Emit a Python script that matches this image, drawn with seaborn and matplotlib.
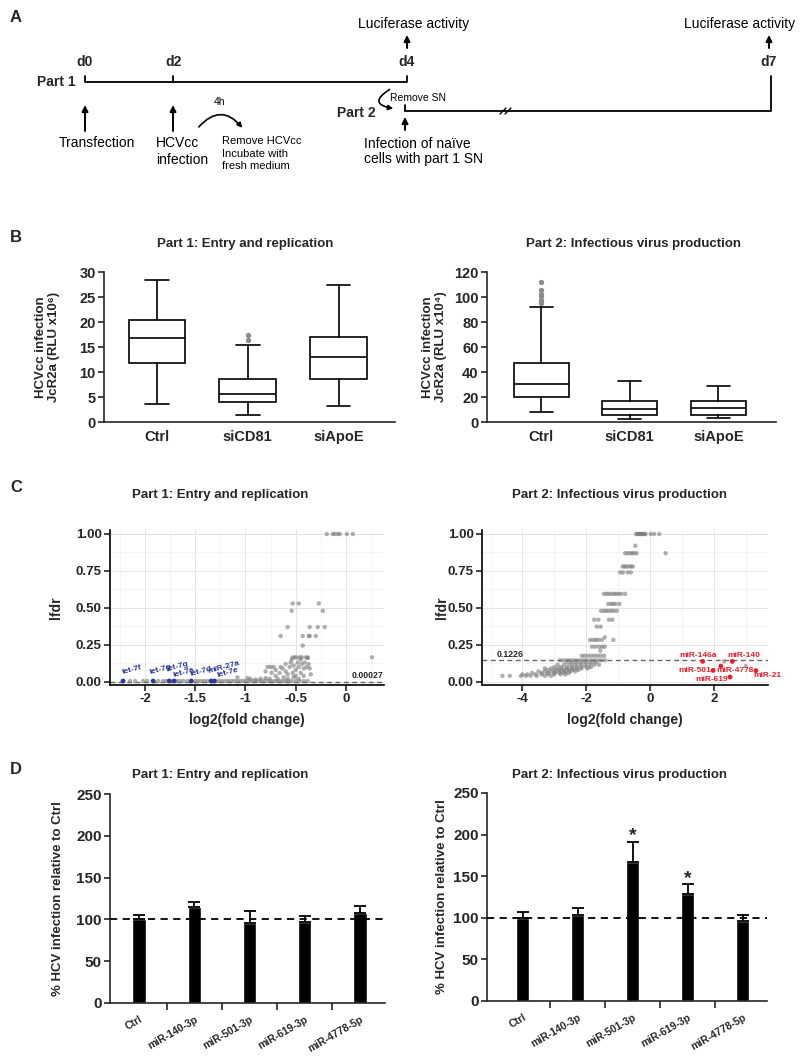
import numpy as np
import pandas as pd
import matplotlib
matplotlib.use("Agg")
import matplotlib.pyplot as plt
import matplotlib.font_manager as fm
from matplotlib.patches import FancyArrowPatch
from matplotlib.ticker import FixedLocator, MultipleLocator
import seaborn as sns

# ---------------- data ----------------
box_cats = ["Ctrl", "siCD81", "siApoE"]
# Part 1 (RLU x10^6)
p1_whislo = [3.7, 1.5, 3.3]
p1_q1 = [11.9, 4.1, 8.6]
p1_med = [16.9, 5.6, 13.1]
p1_q3 = [20.5, 8.7, 17.1]
p1_whishi = [28.5, 15.4, 27.5]
p1_fliers = [[], [16.4, 17.5], []]
# Part 2 (RLU x10^4)
p2_whislo = [7.8, 2.7, 3.2]
p2_q1 = [20.3, 5.3, 5.9]
p2_med = [30.2, 10.7, 11.2]
p2_q3 = [47.6, 17.1, 17.1]
p2_whishi = [91.7, 33.1, 29.1]
p2_fliers = [[95.1, 97.8, 100.5, 102.4, 105.8, 111.8], [], []]

# Volcano part 1 : (log2 fold change, lfdr)
part1_points = [
    (-2.15, 0.005), (-2.10, 0.005), (-2.02, 0.005), (-1.98, 0.005), (-1.87, 0.005),
    (-1.82, 0.005), (-1.79, 0.005), (-1.73, 0.005), (-1.68, 0.005), (-1.65, 0.005),
    (-1.62, 0.005), (-1.58, 0.005), (-1.50, 0.005), (-1.47, 0.005), (-1.44, 0.005),
    (-1.41, 0.005), (-1.38, 0.005), (-1.35, 0.005), (-1.29, 0.005), (-1.26, 0.005),
    (-1.23, 0.005), (-1.20, 0.005), (-1.17, 0.005), (-1.14, 0.005), (-1.11, 0.005),
    (-1.08, 0.005), (-1.05, 0.005), (-1.02, 0.005), (-0.99, 0.005), (-0.96, 0.005),
    (-0.93, 0.005), (-0.90, 0.005), (-0.87, 0.005), (-0.84, 0.005), (-0.81, 0.005),
    (-0.78, 0.005), (-0.75, 0.005), (-0.72, 0.005), (-0.69, 0.005), (-0.66, 0.005),
    (-0.63, 0.005), (-0.60, 0.005), (-0.57, 0.005), (-0.54, 0.005), (-0.50, 0.005),
    (-0.46, 0.005), (-0.42, 0.005), (-0.38, 0.005),
    (-1.08, 0.030), (-0.98, 0.025), (-0.95, 0.020), (-0.90, 0.015), (-0.85, 0.020),
    (-0.80, 0.025), (-0.76, 0.020), (-0.68, 0.020), (-0.58, 0.020), (-0.47, 0.020),
    (-0.62, 0.030), (-0.52, 0.030), (-0.70, 0.040), (-0.50, 0.040), (-0.42, 0.040),
    (-0.66, 0.060), (-0.58, 0.050), (-0.53, 0.060), (-0.45, 0.060), (-0.74, 0.060),
    (-0.35, 0.050), (-0.80, 0.070), (-0.60, 0.070), (-0.70, 0.080), (-0.50, 0.080),
    (-0.63, 0.090), (-0.42, 0.090), (-0.36, 0.090), (-0.78, 0.100), (-0.75, 0.100),
    (-0.72, 0.100), (-0.56, 0.100), (-0.47, 0.100), (-0.39, 0.100), (-0.65, 0.100),
    (-0.52, 0.110), (-0.60, 0.120), (-0.44, 0.120), (-0.37, 0.120), (-0.55, 0.130),
    (-0.48, 0.130), (-0.41, 0.130), (-0.54, 0.150), (-0.45, 0.150), (-0.38, 0.160),
    (-0.53, 0.165), (-0.51, 0.165), (-0.49, 0.165), (-0.46, 0.165), (-0.44, 0.165),
    (-0.40, 0.165), (-0.38, 0.165), (0.26, 0.165),
    (-0.43, 0.245),
    (-0.65, 0.31), (-0.43, 0.31), (-0.37, 0.31), (-0.36, 0.31), (-0.30, 0.31),
    (-0.58, 0.37), (-0.36, 0.37), (-0.28, 0.37), (-0.21, 0.37),
    (-0.54, 0.48), (-0.23, 0.48),
    (-0.53, 0.53), (-0.47, 0.53), (-0.27, 0.53),
    (-0.19, 1.0), (-0.13, 1.0), (-0.11, 1.0), (-0.08, 1.0), (-0.06, 1.0), (0.01, 1.0), (0.07, 1.0),
]
part1_hl_names = ["let-7f", "let-7g", "let-7g", "let-7a", "let-7d", "miR-27a", "let-7e"]
part1_hl_x = [-2.22, -1.92, -1.76, -1.71, -1.54, -1.34, -1.31]
part1_hl_y = [0.005, 0.005, 0.005, 0.005, 0.005, 0.005, 0.005]
part1_cut = 0.00027

# Volcano part 2
part2_points = [
    (-0.44, 1.0), (-0.40, 1.0), (-0.36, 1.0), (-0.33, 1.0), (-0.30, 1.0), (-0.27, 1.0),
    (-0.24, 1.0), (-0.20, 1.0), (-0.17, 1.0), (-0.14, 1.0), (0.02, 1.0), (0.13, 1.0), (0.29, 1.0),
    (-0.46, 0.92),
    (-0.78, 0.87), (-0.70, 0.87), (-0.62, 0.87), (-0.56, 0.87), (-0.50, 0.87), (-0.42, 0.87), (0.49, 0.87),
    (-0.86, 0.78), (-0.80, 0.78), (-0.74, 0.78), (-0.66, 0.78), (-0.60, 0.78), (-0.54, 0.78),
    (-0.94, 0.74), (-0.85, 0.74), (-0.70, 0.74), (-0.60, 0.74),
    (-1.44, 0.595), (-1.36, 0.595), (-1.28, 0.595), (-1.20, 0.595), (-1.12, 0.595),
    (-1.05, 0.595), (-0.98, 0.595), (-0.90, 0.595), (-0.78, 0.595),
    (-1.31, 0.527), (-1.22, 0.527), (-1.15, 0.527), (-1.08, 0.527), (-0.96, 0.527),
    (-1.54, 0.48), (-1.45, 0.48), (-1.38, 0.48), (-1.30, 0.48), (-1.22, 0.48), (-1.14, 0.48), (-1.04, 0.48),
    (-1.75, 0.42), (-1.62, 0.42), (-1.29, 0.42), (-1.18, 0.42),
    (-1.67, 0.373), (-1.55, 0.373),
    (-1.42, 0.30),
    (-1.88, 0.283), (-1.78, 0.283), (-1.70, 0.283), (-1.62, 0.283), (-1.51, 0.283), (-1.15, 0.283),
    (-1.82, 0.237), (-1.72, 0.237), (-1.60, 0.237), (-1.50, 0.237), (-1.42, 0.237),
    (-1.56, 0.21),
    (-2.14, 0.176), (-2.05, 0.176), (-1.95, 0.176), (-1.85, 0.176), (-1.75, 0.176),
    (-1.65, 0.176), (-1.55, 0.176), (-1.44, 0.176),
    (-2.82, 0.145), (-2.72, 0.145), (-2.62, 0.145), (-2.52, 0.145), (-2.42, 0.145),
    (-2.32, 0.145), (-2.22, 0.145), (-2.12, 0.145), (-2.02, 0.145), (-1.92, 0.145),
    (-1.82, 0.145), (-1.72, 0.145), (-1.62, 0.145), (-1.52, 0.145), (-1.41, 0.145),
    (-2.60, 0.13), (-2.45, 0.13), (-2.30, 0.13), (-2.15, 0.13), (-2.00, 0.13), (-1.85, 0.13), (-1.70, 0.13),
    (-2.90, 0.115), (-2.70, 0.115), (-2.50, 0.115), (-2.35, 0.115), (-2.20, 0.115),
    (-2.05, 0.115), (-1.90, 0.115), (-1.75, 0.115), (-1.60, 0.115),
    (-3.00, 0.10), (-2.80, 0.10), (-2.60, 0.10), (-2.45, 0.10), (-2.30, 0.10), (-2.15, 0.10),
    (-2.00, 0.10), (-1.85, 0.10),
    (-3.30, 0.09), (-3.10, 0.09), (-2.90, 0.09), (-2.75, 0.09), (-2.60, 0.09), (-2.45, 0.09),
    (-2.30, 0.09), (-2.15, 0.09), (-1.95, 0.09),
    (-3.20, 0.08), (-3.00, 0.08), (-2.85, 0.08), (-2.70, 0.08), (-2.55, 0.08), (-2.40, 0.08), (-2.25, 0.08),
    (-3.50, 0.07), (-3.30, 0.07), (-3.10, 0.07), (-2.95, 0.07), (-2.80, 0.07), (-2.65, 0.07),
    (-2.50, 0.07), (-2.35, 0.07),
    (-3.70, 0.06), (-3.40, 0.06), (-3.20, 0.06), (-3.00, 0.06), (-2.85, 0.06), (-2.70, 0.06), (-2.55, 0.06),
    (-4.00, 0.05), (-3.85, 0.05), (-3.60, 0.05), (-3.40, 0.05), (-3.20, 0.05), (-3.00, 0.05),
    (-2.80, 0.05), (-2.65, 0.05),
    (-4.63, 0.04), (-4.40, 0.04), (-4.05, 0.04), (-3.90, 0.04), (-3.75, 0.04), (-3.55, 0.04),
    (-3.30, 0.04), (-3.10, 0.04),
    (2.32, 0.138), (3.00, 0.106),
]
part2_hl_names = ["miR-146a", "miR-140", "miR-501", "miR-4778", "miR-21", "miR-619"]
part2_hl_x = [1.65, 2.58, 1.98, 2.22, 3.32, 2.51]
part2_hl_y = [0.138, 0.138, 0.077, 0.106, 0.075, 0.032]
part2_cut = 0.145

# Bars
bar_cats = ["Ctrl", "miR-140-3p", "miR-501-3p", "miR-619-3p", "miR-4778-5p"]
bar1_mean = [100, 115, 96.2, 97, 108.2]
bar1_err = [5.8, 5.6, 14.0, 6.8, 7.6]
bar2_mean = [100, 103.7, 167.6, 129, 96.5]
bar2_err = [6.5, 8.0, 24.1, 11.3, 7.2]
bar2_star = ["", "", "*", "*", ""]

# ---------------- style ----------------
sns.set_style("ticks")
plt.rcParams["font.family"] = ["Liberation Sans", "DejaVu Sans"]
plt.rcParams["axes.unicode_minus"] = False
names = {f.name for f in fm.fontManager.ttflist}
NARROW = ["Liberation Sans Narrow", "Liberation Sans", "DejaVu Sans"] if "Liberation Sans Narrow" in names else ["Liberation Sans", "DejaVu Sans"]

W, H = 800, 1064
fig = plt.figure(figsize=(W / 100, H / 100), dpi=100)


def rect(l, t, r, b):
    return [l / W, 1 - b / H, (r - l) / W, (b - t) / H]


LW = 1.2
TITLE_FS = 9.5

# ---------------- Panel A (schematic) ----------------
axA = fig.add_axes([0, 1 - 200 / H, 1, 200 / H])
axA.set_xlim(0, W)
axA.set_ylim(200, 0)
axA.axis("off")
tkw = dict(family=NARROW, color="black")
AFS = 10
arrow_kw = dict(arrowstyle="-|>", lw=1.4, color="black", mutation_scale=9, shrinkA=0, shrinkB=0)
axA.text(16, 18, "A", fontsize=12, fontweight="bold", ha="center", va="center")
axA.text(414, 24, "Luciferase activity", fontsize=AFS, ha="center", va="center", **tkw)
axA.text(740, 24, "Luciferase activity", fontsize=AFS, ha="center", va="center", **tkw)
for x in (407, 769):
    axA.annotate("", xy=(x, 35), xytext=(x, 48), arrowprops=arrow_kw)
for x, lab in [(85, "d0"), (173, "d2"), (407, "d4"), (769, "d7")]:
    axA.text(x, 62, lab, fontsize=10, fontweight="bold", ha="center", va="center")
axA.text(56, 82, "Part 1", fontsize=10, fontweight="bold", ha="center", va="center")
axA.plot([85, 407], [82, 82], color="black", lw=1.3, solid_capstyle="butt")
for x in (85, 173, 407):
    axA.plot([x, x], [82, 76], color="black", lw=1.3)
axA.plot([405, 771, 771], [111, 111, 76], color="black", lw=1.3)
axA.plot([405, 405], [111, 105], color="black", lw=1.3)
for dx in (0, 5):
    axA.plot([500 + dx, 506 + dx], [114, 108], color="black", lw=1.0)
axA.text(356, 113, "Part 2", fontsize=10, fontweight="bold", ha="center", va="center")
for x, y0, y1 in [(85, 131, 105), (173, 131, 105), (405, 130, 117)]:
    axA.annotate("", xy=(x, y1), xytext=(x, y0), arrowprops=arrow_kw)
axA.add_patch(FancyArrowPatch((197, 129), (244, 130), connectionstyle="arc3,rad=-0.62",
                              arrowstyle="-|>", mutation_scale=7, lw=1.2, color="black"))
axA.text(219, 102, "4h", fontsize=7.5, ha="center", va="center", **tkw)
axA.add_patch(FancyArrowPatch((392, 88), (396, 109), connectionstyle="arc3,rad=1.4",
                              arrowstyle="-|>", mutation_scale=7, lw=1.2, color="black"))
axA.text(390, 98, "Remove SN", fontsize=7.5, ha="left", va="center", **tkw)
axA.text(97, 143, "Transfection", fontsize=AFS, ha="center", va="center", **tkw)
axA.text(156, 143, "HCVcc", fontsize=AFS, ha="left", va="center", **tkw)
axA.text(156, 160, "infection", fontsize=AFS, ha="left", va="center", **tkw)
axA.text(222, 141, "Remove HCVcc", fontsize=8, ha="left", va="center", **tkw)
axA.text(222, 154, "Incubate with", fontsize=8, ha="left", va="center", **tkw)
axA.text(222, 166, "fresh medium", fontsize=8, ha="left", va="center", **tkw)
axA.text(364, 144, "Infection of na\u00efve", fontsize=AFS, ha="left", va="center", **tkw)
axA.text(364, 159, "cells with part 1 SN", fontsize=AFS, ha="left", va="center", **tkw)

# panel letters and titles
for y, lab in [(238, "B"), (488, "C"), (769, "D")]:
    fig.text(16 / W, 1 - y / H, lab, fontsize=12, fontweight="bold", ha="center", va="center")
title_kw = dict(fontsize=TITLE_FS, fontweight="bold", ha="center", va="center")
fig.text(245 / W, 1 - 244 / H, "Part 1: Entry and replication", **title_kw)
fig.text(633 / W, 1 - 244 / H, "Part 2: Infectious virus production", **title_kw)
fig.text(220 / W, 1 - 495 / H, "Part 1: Entry and replication", **title_kw)
fig.text(620 / W, 1 - 495 / H, "Part 2: Infectious virus production", **title_kw)
fig.text(220 / W, 1 - 775 / H, "Part 1: Entry and replication", **title_kw)
fig.text(620 / W, 1 - 775 / H, "Part 2: Infectious virus production", **title_kw)


# ---------------- Panel B (box plots) ----------------
def boxpanel(ax, lo, q1, med, q3, hi, fl, ymax, ystep, ylabel, xlim, lab_x):
    stats = [dict(whislo=lo[i], q1=q1[i], med=med[i], q3=q3[i], whishi=hi[i], fliers=fl[i], label=box_cats[i])
             for i in range(len(box_cats))]
    ax.bxp(stats, positions=range(len(box_cats)), widths=0.62, patch_artist=True, showfliers=True,
           capwidths=0.26,
           boxprops=dict(facecolor="white", edgecolor="black", lw=LW),
           medianprops=dict(color="black", lw=LW),
           whiskerprops=dict(color="black", lw=LW),
           capprops=dict(color="black", lw=LW),
           flierprops=dict(marker="o", markersize=2.8, markerfacecolor="#8c8c8c", markeredgecolor="#8c8c8c"))
    ax.set_ylim(0, ymax)
    ax.set_xlim(*xlim)
    ax.set_yticks(np.arange(0, ymax + 0.1, ystep))
    ax.set_xticks(range(len(box_cats)))
    ax.set_xticklabels(box_cats, fontweight="bold", fontsize=10.5)
    for t in ax.get_yticklabels():
        t.set_fontweight("bold")
        t.set_fontsize(10.5)
    ax.tick_params(axis="y", length=4, width=LW, direction="out", pad=2)
    ax.tick_params(axis="x", length=0, pad=6)
    sns.despine(ax=ax)
    for s in ("left", "bottom"):
        ax.spines[s].set_linewidth(LW)
    ax.set_ylabel(ylabel, fontsize=9.5, fontweight="bold", linespacing=1.1)
    ax.yaxis.set_label_coords(lab_x, 0.5)


axB1 = fig.add_axes(rect(104, 272, 395, 422))
boxpanel(axB1, p1_whislo, p1_q1, p1_med, p1_q3, p1_whishi, p1_fliers, 30, 5,
         "HCVcc infection\nJcR2a (RLU x10\u2076)", (-0.58, 2.62), -0.15)
axB2 = fig.add_axes(rect(487, 272, 776, 422))
boxpanel(axB2, p2_whislo, p2_q1, p2_med, p2_q3, p2_whishi, p2_fliers, 120, 20,
         "HCVcc infection\nJcR2a (RLU x10\u2074)", (-0.61, 2.65), -0.14)


# ---------------- Panel C (volcano) ----------------
def volcano(ax, pts, hx, hy, hnames, hcolor, offsets, rot, cut, xlim, xticks, xlabels, xminor, lab_x):
    df = pd.DataFrame(pts, columns=["log2fc", "lfdr"])
    ax.set_axisbelow(True)
    ax.set_xlim(*xlim)
    ax.set_ylim(-0.022, 1.027)
    ax.xaxis.set_major_locator(FixedLocator(xticks))
    ax.xaxis.set_minor_locator(MultipleLocator(xminor))
    ax.yaxis.set_major_locator(FixedLocator([0, 0.25, 0.5, 0.75, 1.0]))
    ax.yaxis.set_minor_locator(MultipleLocator(0.125))
    ax.grid(which="major", color="#e4e4e4", lw=0.7)
    ax.grid(which="minor", color="#f0f0f0", lw=0.5)
    ax.axhline(cut, color="#666666", lw=1.0, ls=(0, (3.5, 2.5)), zorder=1.5)
    sns.scatterplot(data=df, x="log2fc", y="lfdr", color="#7a7a7a", alpha=0.6, s=10,
                    edgecolor="none", ax=ax, zorder=2)
    hdf = pd.DataFrame({"x": hx, "y": hy})
    sns.scatterplot(data=hdf, x="x", y="y", color=hcolor, s=12, edgecolor="none", ax=ax, zorder=3)
    for name, x, y, off in zip(hnames, hx, hy, offsets):
        ax.annotate(name, (x, y), xytext=off, textcoords="offset points", ha="center", va="center",
                    rotation=rot, fontsize=6, color=hcolor, fontweight="bold")
    ax.set_xticklabels(xlabels)
    ax.set_yticklabels(["0.00", "0.25", "0.50", "0.75", "1.00"])
    for t in ax.get_xticklabels() + ax.get_yticklabels():
        t.set_fontweight("bold")
        t.set_fontsize(9.5)
    ax.tick_params(which="major", length=4, width=LW, direction="out", pad=2)
    ax.tick_params(which="minor", length=0)
    sns.despine(ax=ax)
    for s in ("left", "bottom"):
        ax.spines[s].set_linewidth(LW)
        ax.spines[s].set_color("black")
    ax.set_xlabel("log2(fold change)", fontsize=10, fontweight="bold")
    ax.set_ylabel("lfdr", fontsize=10, fontweight="bold")
    ax.xaxis.set_label_coords(0.5, -0.18)
    ax.yaxis.set_label_coords(lab_x, 0.5)


axC1 = fig.add_axes(rect(110, 530, 384, 685))
volcano(axC1, part1_points, part1_hl_x, part1_hl_y, part1_hl_names, "#2b3b94",
        [(6, 8), (5, 8), (6, 10), (6.5, 6), (7, 7), (8.7, 10), (9.5, 6)], 15, part1_cut,
        (-2.35, 0.38), [-2, -1.5, -1, -0.5, 0], ["-2", "-1.5", "-1", "-0.5", "0"], 0.25, -0.17)
axC1.text(0.37, 0.012, "0.00027", fontsize=6.3, fontweight="bold", ha="right", va="bottom")

axC2 = fig.add_axes(rect(482, 530, 768, 685))
volcano(axC2, part2_points, part2_hl_x, part2_hl_y, part2_hl_names, "#e5202a",
        [(-3, 4), (8, 4), (-13.5, 0), (10.5, -3), (8.5, -3.7), (-13, -2)], 0, part2_cut,
        (-5.27, 3.7), [-4, -2, 0, 2], ["-4", "-2", "0", "2"], 1.0, -0.115)
axC2.text(-4.82, 0.155, "0.1226", fontsize=6.3, fontweight="bold", ha="left", va="bottom")


# ---------------- Panel D (bars) ----------------
def barpanel(ax, means, errs, xlim, lab_x, stars=None):
    df = pd.DataFrame({"cat": bar_cats, "val": means})
    sns.barplot(data=df, x="cat", y="val", color="black", saturation=1, width=0.24, ax=ax, zorder=2)
    ax.errorbar(range(len(bar_cats)), means, yerr=[np.zeros(len(errs)), errs], fmt="none",
                ecolor="black", elinewidth=1.3, capsize=4.5, capthick=1.3, zorder=3)
    ax.axhline(100, color="black", lw=1.3, ls=(0, (4, 3)), zorder=4)
    ax.set_ylim(0, 250)
    ax.set_xlim(*xlim)
    ax.set_yticks([0, 50, 100, 150, 200, 250])
    ax.set_xticks(range(len(bar_cats)))
    ax.set_xticklabels(bar_cats, rotation=30, ha="right", rotation_mode="anchor", fontsize=7.5, fontweight="bold")
    ax.xaxis.set_minor_locator(FixedLocator([0.5, 1.5, 2.5, 3.5]))
    ax.tick_params(axis="x", which="major", length=0, pad=8)
    ax.tick_params(axis="x", which="minor", length=5, width=LW, direction="out")
    ax.tick_params(axis="y", length=4, width=LW, direction="out", pad=2)
    for t in ax.get_yticklabels():
        t.set_fontweight("bold")
        t.set_fontsize(11)
    if stars:
        for i, s in enumerate(stars):
            if s:
                ax.text(i, means[i] + errs[i] - 3, s, ha="center", va="bottom", fontsize=14, fontweight="bold")
    sns.despine(ax=ax)
    for s in ("left", "bottom"):
        ax.spines[s].set_linewidth(LW)
    ax.set_xlabel("")
    ax.set_ylabel("% HCV infection relative to Ctrl", fontsize=9.5, fontweight="bold")
    ax.yaxis.set_label_coords(lab_x, 0.5)


axD1 = fig.add_axes(rect(110, 794, 385, 1003))
barpanel(axD1, bar1_mean, bar1_err, (-0.525, 4.45), -0.167)
axD2 = fig.add_axes(rect(487, 793, 767, 1001))
barpanel(axD2, bar2_mean, bar2_err, (-0.65, 4.44), -0.139, bar2_star)

fig.savefig("out.png", dpi=100)
